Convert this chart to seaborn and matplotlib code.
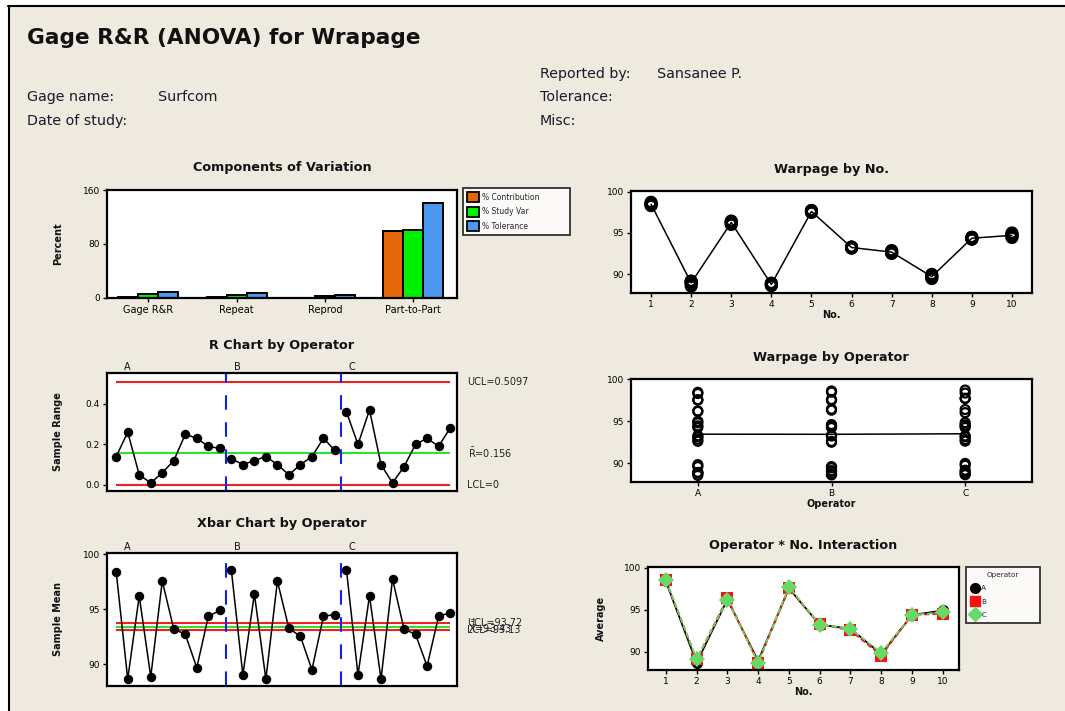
import numpy as np
import pandas as pd
import matplotlib
matplotlib.use("Agg")
import matplotlib.pyplot as plt
import matplotlib.transforms as mtransforms
from matplotlib.patches import Patch, Rectangle
from matplotlib.lines import Line2D
import seaborn as sns

# ---------------------------------------------------------------- data
sources = ["Gage R&R", "Repeat", "Reprod", "Part-to-Part"]
measures = ["% Contribution", "% Study Var", "% Tolerance"]
pct_contribution = [0.30, 0.21, 0.09, 99.70]
pct_study_var = [5.48, 4.58, 3.00, 99.85]
pct_tolerance = [7.70, 6.50, 4.20, 141.00]

parts = [1, 2, 3, 4, 5, 6, 7, 8, 9, 10]
operators = ["A", "B", "C"]

# Warpage readings, two trials per operator for each part
a_trial1 = [98.32, 88.54, 96.18, 88.88, 97.52, 93.15, 92.61, 89.59, 94.26, 94.82]
a_trial2 = [98.46, 88.80, 96.23, 88.89, 97.58, 93.27, 92.86, 89.82, 94.45, 95.00]
b_trial1 = [98.49, 89.01, 96.33, 88.60, 97.50, 93.25, 92.50, 89.45, 94.25, 94.44]
b_trial2 = [98.62, 89.11, 96.45, 88.74, 97.60, 93.30, 92.60, 89.59, 94.48, 94.61]
c_trial1 = [98.37, 88.96, 96.03, 88.62, 97.73, 93.16, 92.63, 89.74, 94.26, 94.56]
c_trial2 = [98.73, 89.16, 96.40, 88.72, 97.74, 93.25, 92.83, 89.97, 94.45, 94.84]

# Control limits
r_ucl, r_bar, r_lcl = 0.5097, 0.156, 0.0
x_ucl, x_bar, x_lcl = 93.72, 93.43, 93.13

# ---------------------------------------------------------------- tables
comp = pd.DataFrame({
    "Source": sources * 3,
    "Measure": [m for m in measures for _ in sources],
    "Percent": pct_contribution + pct_study_var + pct_tolerance,
})

trials = {"A": (a_trial1, a_trial2), "B": (b_trial1, b_trial2), "C": (c_trial1, c_trial2)}
rows = []
for op in operators:
    for t, vals in enumerate(trials[op], start=1):
        for p, v in zip(parts, vals):
            rows.append({"Operator": op, "Part": p, "Trial": t, "Warpage": v})
meas = pd.DataFrame(rows)

stats = (meas.groupby(["Operator", "Part"])["Warpage"]
         .agg(Mean="mean", Range=lambda s: s.max() - s.min())
         .reset_index())
stats["Sample"] = stats["Operator"].map({o: i for i, o in enumerate(operators)}) * 10 + stats["Part"]

# ---------------------------------------------------------------- figure
W, H = 1065, 711
sns.set_theme(style="white")
plt.rcParams["font.family"] = ["DejaVu Sans"]
BG = "#EEEAE0"

fig = plt.figure(figsize=(W / 100, H / 100), dpi=100)
fig.patch.set_facecolor(BG)


def px_axes(l, t, r, b):
    ax = fig.add_axes([l / W, 1 - b / H, (r - l) / W, (b - t) / H])
    ax.set_facecolor("white")
    for s in ax.spines.values():
        s.set_color("black")
        s.set_linewidth(1.6)
    ax.tick_params(direction="out", length=3, width=1, labelsize=6.5,
                   pad=2, colors="black", bottom=True, left=True)
    return ax


def ftext(x, y, s, **kw):
    fig.text(x / W, 1 - y / H, s, **kw)


# window frame
fig.add_artist(Rectangle((0, 1 - 5 / H), 1, 5 / H, transform=fig.transFigure,
                         facecolor="white", edgecolor="none"))
fig.add_artist(Rectangle((0, 0), 8 / W, 1, transform=fig.transFigure,
                         facecolor="white", edgecolor="none"))
fig.add_artist(Line2D([8 / W, 1], [1 - 5.5 / H, 1 - 5.5 / H], color="black", lw=1.5))
fig.add_artist(Line2D([8.5 / W, 8.5 / W], [0, 1 - 5.5 / H], color="black", lw=1.5))

# header
ftext(27, 38, "Gage R&R (ANOVA) for Wrapage", fontsize=15.6, fontweight="bold",
      va="center", ha="left", color="#111111")
hdr = dict(fontsize=10.3, va="center", ha="left", color="#1a1a2a")
ftext(27, 97, "Gage name:", **hdr)
ftext(158, 97, "Surfcom", **hdr)
ftext(27, 121, "Date of study:", **hdr)
ftext(540, 74, "Reported by:", **hdr)
ftext(657, 74, "Sansanee P.", **hdr)
ftext(540, 97, "Tolerance:", **hdr)
ftext(540, 121, "Misc:", **hdr)

title_kw = dict(fontsize=9.2, fontweight="bold", ha="center", va="center", color="#111111")
lab_kw = dict(fontsize=7, fontweight="bold", color="#111111")

# ---------------------------------------------------------------- components of variation
ax = px_axes(107, 190, 457, 298)
colors = {"% Contribution": "#E2660A", "% Study Var": "#00F000", "% Tolerance": "#4A98F0"}
sns.barplot(data=comp, x="Source", y="Percent", hue="Measure", palette=colors,
            edgecolor="black", linewidth=1.4, width=0.68, saturation=1,
            legend=False, ax=ax)
ax.set_ylim(-0.6, 160)
ax.set_xlim(-0.47, 3.5)
ax.set_yticks([0, 80, 160])
ax.set_xlabel("")
ax.set_ylabel("Percent", **lab_kw)
ax.yaxis.set_label_coords(-0.125, 0.5)
ax.tick_params(axis="x", labelsize=7)
ftext(282, 168, "Components of Variation", **title_kw)
handles = [Patch(facecolor=colors[m], edgecolor="black", linewidth=1.3) for m in measures]
leg = fig.legend(handles, measures, loc="upper left",
                 bbox_to_anchor=(463 / W, 1 - 237 / H, 107 / W, 49 / H), mode="expand",
                 frameon=True, fancybox=False, edgecolor="black", facecolor="white",
                 fontsize=5.5, handlelength=1.5, handleheight=1.6, borderpad=0.55,
                 labelspacing=0.62, handletextpad=0.5, borderaxespad=0)
leg.get_frame().set_linewidth(1.3)

# ---------------------------------------------------------------- R chart
ax = px_axes(107, 373, 457, 491)
sns.lineplot(data=stats, x="Sample", y="Range", units="Operator", estimator=None,
             color="black", lw=1.1, marker="o", markersize=6.8, markeredgewidth=0, ax=ax)
ax.hlines([r_ucl, r_lcl], 1, 30, color="#F02020", lw=1.5, zorder=1)
ax.hlines(r_bar, 1, 30, color="#30E030", lw=1.5, zorder=1)
for xv in (10.5, 20.5):
    ax.axvline(xv, color="#1020F0", lw=1.5, ls=(0, (7, 6)), zorder=1)
ax.set_xlim(0.2, 30.6)
ax.set_ylim(-0.03, 0.552)
ax.set_yticks([0.0, 0.2, 0.4])
ax.set_yticklabels(["0.0", "0.2", "0.4"])
ax.set_xticks([])
ax.set_xlabel("")
ax.set_ylabel("Sample Range", **lab_kw)
ax.yaxis.set_label_coords(-0.125, 0.5)
tr = mtransforms.blended_transform_factory(ax.transAxes, ax.transData)
rl_kw = dict(transform=tr, fontsize=7, va="center", ha="left", color="#222222")
ax.text(1.03, r_ucl, "UCL=0.5097", **rl_kw)
ax.text(1.03, r_bar, r"$\bar{\mathrm{R}}$=0.156", **rl_kw)
ax.text(1.03, r_lcl, "LCL=0", **rl_kw)
for xv, op in zip((2.0, 11.5, 21.5), operators):
    ax.text(xv, 1.01, op, transform=mtransforms.blended_transform_factory(ax.transData, ax.transAxes),
            fontsize=7, ha="center", va="bottom", color="#111111")
ftext(282, 345, "R Chart by Operator", **title_kw)

# ---------------------------------------------------------------- Xbar chart
ax = px_axes(107, 553, 457, 686)
sns.lineplot(data=stats, x="Sample", y="Mean", units="Operator", estimator=None,
             color="black", lw=1.1, marker="o", markersize=6.8, markeredgewidth=0, ax=ax)
ax.hlines([x_ucl, x_lcl], 1, 30, color="#F02020", lw=1.5, zorder=1)
ax.hlines(x_bar, 1, 30, color="#30E030", lw=1.5, zorder=1)
for xv in (10.5, 20.5):
    ax.axvline(xv, color="#1020F0", lw=1.5, ls=(0, (7, 6)), zorder=1)
ax.set_xlim(0.2, 30.6)
ax.set_ylim(88.05, 100.1)
ax.set_yticks([90, 95, 100])
ax.set_xticks([])
ax.set_xlabel("")
ax.set_ylabel("Sample Mean", **lab_kw)
ax.yaxis.set_label_coords(-0.125, 0.5)
tr = mtransforms.blended_transform_factory(ax.transAxes, ax.transData)
rl_kw = dict(transform=tr, fontsize=7, va="center", ha="left", color="#222222")
ax.text(1.03, x_ucl, "UCL=93.72", **rl_kw)
ax.text(1.03, x_bar, r"$\bar{\bar{\mathrm{X}}}$=93.43", **rl_kw)
ax.text(1.03, x_lcl, "LCL=93.13", **rl_kw)
for xv, op in zip((2.0, 11.5, 21.5), operators):
    ax.text(xv, 1.01, op, transform=mtransforms.blended_transform_factory(ax.transData, ax.transAxes),
            fontsize=7, ha="center", va="bottom", color="#111111")
ftext(282, 523, "Xbar Chart by Operator", **title_kw)

# ---------------------------------------------------------------- Warpage by No.
ax = px_axes(631, 191, 1032, 293)
sns.lineplot(data=meas, x="Part", y="Warpage", estimator="mean", errorbar=None,
             color="black", lw=1.1, ax=ax)
sns.scatterplot(data=meas, x="Part", y="Warpage", facecolor="none", edgecolor="black",
                linewidth=2.0, s=55, ax=ax, zorder=3)
ax.set_xlim(0.5, 10.5)
ax.set_ylim(87.7, 100.1)
ax.set_xticks(parts)
ax.set_yticks([90, 95, 100])
ax.set_xlabel("No.", **lab_kw, labelpad=1)
ax.set_ylabel("")
ftext(831, 170, "Warpage by No.", **title_kw)

# ---------------------------------------------------------------- Warpage by Operator
ax = px_axes(631, 379, 1032, 482)
sns.lineplot(data=meas, x="Operator", y="Warpage", estimator="mean", errorbar=None,
             color="black", lw=1.1, ax=ax)
sns.scatterplot(data=meas, x="Operator", y="Warpage", facecolor="none", edgecolor="black",
                linewidth=1.6, s=42, ax=ax, zorder=3)
ax.set_xlim(-0.5, 2.5)
ax.set_ylim(87.75, 100.05)
ax.set_yticks([90, 95, 100])
ax.set_xlabel("Operator", **lab_kw, labelpad=1)
ax.set_ylabel("")
ftext(831, 357, "Warpage by Operator", **title_kw)

# ---------------------------------------------------------------- interaction
ax = px_axes(648, 567, 959, 670)
pal = {"A": "black", "B": "#FF1010", "C": "#66D966"}
mk = {"A": "o", "B": "s", "C": "D"}
sns.lineplot(data=meas, x="Part", y="Warpage", hue="Operator", style="Operator",
             markers=mk, dashes={"A": "", "B": (3, 1.5), "C": (3, 1.5)}, palette=pal,
             estimator="mean", errorbar=None, lw=1.3, markersize=8, markeredgewidth=0,
             legend=False, ax=ax)
ax.set_xlim(0.42, 10.53)
ax.set_ylim(87.8, 100.1)
ax.set_xticks(parts)
ax.set_yticks([90, 95, 100])
ax.set_xlabel("No.", **lab_kw, labelpad=1)
ax.set_ylabel("Average", **lab_kw)
ax.yaxis.set_label_coords(-0.135, 0.5)
ftext(803, 545, "Operator * No. Interaction", **title_kw)
ih = [Line2D([], [], ls="none", marker=mk[o], color=pal[o], markersize=7.0 if o != "C" else 7.5)
      for o in operators]
leg2 = fig.legend(ih, operators, loc="upper left",
                  bbox_to_anchor=(966 / W, 1 - 628 / H, 74 / W, 61 / H), mode="expand",
                  title="Operator", title_fontsize=5.2, frameon=True, fancybox=False,
                  edgecolor="black", facecolor="white", fontsize=5.2, borderpad=0.7,
                  labelspacing=1.0, handlelength=1.0, handletextpad=0.4, borderaxespad=0)
leg2.get_frame().set_linewidth(1.3)

fig.savefig("out.png", dpi=100, facecolor=fig.get_facecolor())
